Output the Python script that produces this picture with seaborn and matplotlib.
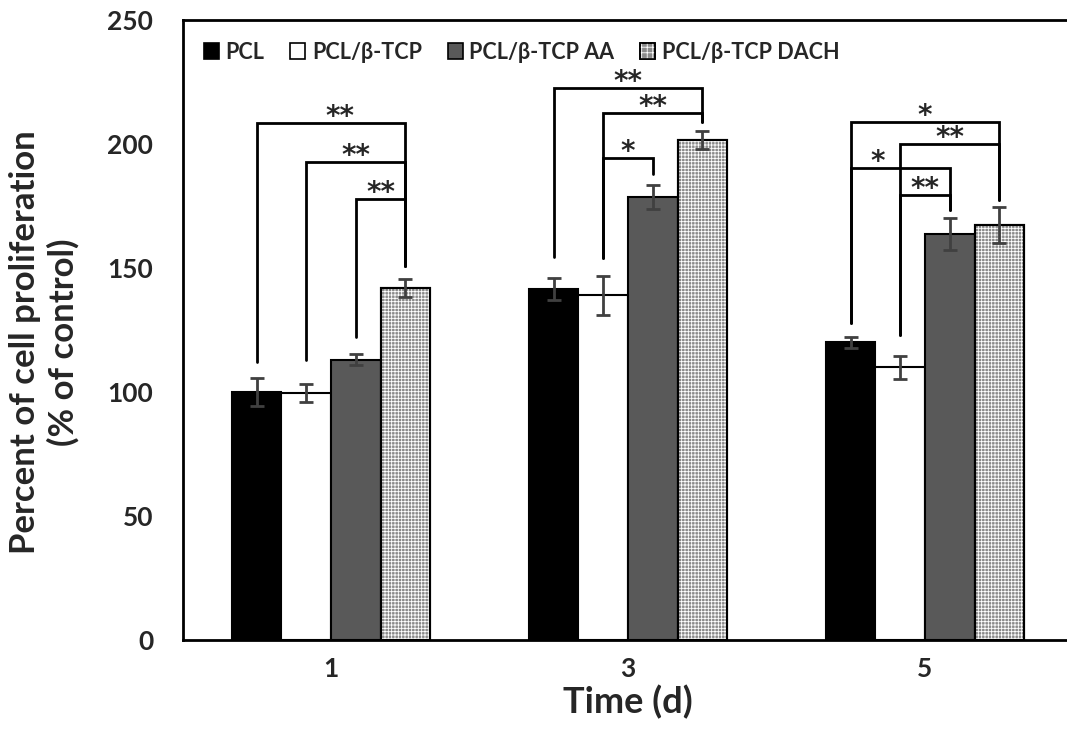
import pandas as pd
import seaborn as sns
import matplotlib.pyplot as plt
from matplotlib.patches import Patch, Rectangle

# values
DAYS = ["1", "3", "5"]
GROUPS = ["PCL", "PCL/β-TCP", "PCL/β-TCP AA", "PCL/β-TCP DACH"]
PCL = [100.0, 141.5, 120.0]
PCL_TCP = [99.5, 139.0, 110.0]
PCL_TCP_AA = [113.0, 178.6, 163.7]
PCL_TCP_DACH = [141.8, 201.6, 167.3]
SD_PCL = [5.8, 4.4, 2.2]
SD_PCL_TCP = [3.6, 7.9, 4.6]
SD_PCL_TCP_AA = [2.2, 5.0, 6.4]
SD_PCL_TCP_DACH = [3.6, 3.6, 7.1]

# significance brackets: (day, group a, group b, top, bottom a, bottom b, label, label shift)
BRACKETS = [
    (0, 0, 3, 208.5, 112.0, 151.0, "**", 0.03),
    (0, 1, 3, 192.7, 113.0, 151.0, "**", 0.0),
    (0, 2, 3, 178.0, 122.0, 151.0, "**", 0.0),
    (1, 0, 3, 222.6, 154.4, 209.0, "**", 0.0),
    (1, 1, 3, 212.5, 154.0, 209.0, "**", 0.0),
    (1, 1, 2, 194.4, 154.0, 188.0, "*", 0.0),
    (2, 0, 3, 209.0, 127.8, 177.4, "*", 0.0),
    (2, 1, 3, 200.0, 123.0, 177.4, "**", 0.0),
    (2, 0, 2, 190.3, 127.8, 173.4, "*", -0.077),
    (2, 1, 2, 179.4, 123.0, 173.4, "**", 0.0),
]

COLORS = {
    "PCL": "#000000",
    "PCL/β-TCP": "#ffffff",
    "PCL/β-TCP AA": "#595959",
    "PCL/β-TCP DACH": "#8a8a8a",
}
FONT = ["Lato", "Open Sans", "DejaVu Sans"]


def build_frame():
    means = [PCL, PCL_TCP, PCL_TCP_AA, PCL_TCP_DACH]
    sds = [SD_PCL, SD_PCL_TCP, SD_PCL_TCP_AA, SD_PCL_TCP_DACH]
    rows = []
    for g, m, s in zip(GROUPS, means, sds):
        for d, v, e in zip(DAYS, m, s):
            rows.append({"Time": d, "Group": g, "Value": v, "SD": e})
    return pd.DataFrame(rows)


def plot_bars(df):
    sns.set_style("white")
    plt.rcParams["font.family"] = FONT
    plt.rcParams["font.weight"] = "bold"
    plt.rcParams["hatch.linewidth"] = 0.6

    fig = plt.figure(figsize=(10.67, 7.44), dpi=100)
    ax = fig.add_axes([182.5 / 1067, 104 / 744, 891 / 1067, 620 / 744])

    sns.barplot(data=df, x="Time", y="Value", hue="Group", order=DAYS,
                hue_order=GROUPS, palette=COLORS, edgecolor="black",
                linewidth=1.5, width=0.667, errorbar=None, legend=False,
                saturation=1, ax=ax)

    centers = {}
    for gi, (group, cont) in enumerate(zip(GROUPS, ax.containers)):
        sub = df[df["Group"] == group]
        for di, bar in enumerate(cont):
            cx = bar.get_x() + bar.get_width() / 2
            centers[(di, gi)] = cx
            ax.errorbar(cx, sub["Value"].iloc[di], yerr=sub["SD"].iloc[di],
                        color="#404040", lw=2, capsize=5, capthick=2,
                        zorder=4)
            if group == "PCL/β-TCP DACH":
                ax.add_patch(Rectangle((bar.get_x(), 0), bar.get_width(),
                                       bar.get_height(), facecolor="none",
                                       edgecolor="white", hatch="+++++",
                                       lw=0, zorder=bar.get_zorder() + 0.1))
                ax.add_patch(Rectangle((bar.get_x(), 0), bar.get_width(),
                                       bar.get_height(), facecolor="none",
                                       edgecolor="black", lw=1.5,
                                       zorder=bar.get_zorder() + 0.2))

    for day, a, b, top, bot_a, bot_b, label, shift in BRACKETS:
        xa, xb = centers[(day, a)], centers[(day, b)]
        ax.plot([xa, xa, xb, xb], [bot_a, top, top, bot_b], color="black",
                lw=2, zorder=5, solid_joinstyle="miter")
        ax.text((xa + xb) / 2 + shift, top - 0.8, label, ha="center",
                va="baseline", fontsize=20, family="DejaVu Sans",
                fontweight="bold")

    ax.set_xlim(-0.5, 2.5)
    ax.set_ylim(0, 250)
    ax.set_yticks([0, 50, 100, 150, 200, 250])
    ax.tick_params(length=0, labelsize=19)
    ax.tick_params(axis="y", pad=21)
    ax.tick_params(axis="x", pad=12)
    for sp in ax.spines.values():
        sp.set_color("black")
        sp.set_linewidth(2)

    ax.set_xlabel("Time (d)", fontsize=26, fontweight="bold", labelpad=3)
    ax.set_ylabel("Percent of cell proliferation\n(% of control)",
                  fontsize=25, fontweight="bold", linespacing=1.2)
    ax.yaxis.set_label_coords(-0.116, 0.48)

    handles = []
    for g in GROUPS:
        base = Patch(facecolor=COLORS[g], edgecolor="black", lw=1.2)
        if g == "PCL/β-TCP DACH":
            over = Patch(facecolor="none", edgecolor="white", lw=0,
                         hatch="+++")
            frame = Patch(facecolor="none", edgecolor="black", lw=1.2)
            handles.append((base, over, frame))
        else:
            handles.append(base)
    ax.legend(handles, GROUPS, loc="upper left", ncol=4, frameon=False,
              handlelength=0.7, handleheight=0.7,
              handletextpad=0.3, columnspacing=1.2,
              bbox_to_anchor=(0.0, 1.0), borderaxespad=0.6,
              prop={"weight": "bold", "size": 15.5})

    fig.savefig("out.png", dpi=100)


if __name__ == "__main__":
    data = build_frame()
    plot_bars(data)
